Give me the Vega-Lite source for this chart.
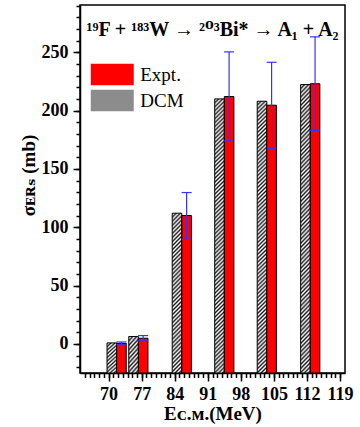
{
  "$schema": "https://vega.github.io/schema/vega-lite/v6.json",
  "width": 265,
  "height": 368,
  "autosize": {"type": "none"},
  "padding": {"left": 80, "top": 5, "right": 15, "bottom": 54},
  "background": "white",
  "config": {
    "view": {"stroke": "black", "strokeWidth": 1.5},
    "font": "Liberation Serif",
    "axis": {
      "labelFont": "Liberation Serif",
      "labelFontWeight": "bold",
      "labelFontSize": 18,
      "labelColor": "black",
      "labelOverlap": false,
      "tickColor": "black",
      "tickWidth": 1.5,
      "domainColor": "black",
      "domainWidth": 1.5,
      "grid": false,
      "titleFont": "Liberation Serif, DejaVu Serif",
      "titleFontWeight": "bold",
      "titleFontSize": 19,
      "titleColor": "black"
    }
  },
  "title": {
    "text": "¹⁹F + ¹⁸³W → ²⁰³Bi* → A₁ + A₂",
    "orient": "top",
    "anchor": "middle",
    "frame": "group",
    "offset": -27,
    "dy": 24,
    "baseline": "alphabetic",
    "font": "Liberation Serif, DejaVu Serif",
    "fontSize": 20,
    "fontWeight": "bold",
    "color": "black"
  },
  "data": {
    "values": [
      {"E": 71.7, "model": "DCM", "sigma": 0.8},
      {"E": 71.7, "model": "Expt.", "sigma": 0.4, "lo": -0.8, "hi": 1.6},
      {"E": 76.3, "model": "DCM", "sigma": 6.3},
      {"E": 76.3, "model": "Expt.", "sigma": 4.8, "lo": 2.5, "hi": 7.1},
      {"E": 85.5, "model": "DCM", "sigma": 112},
      {"E": 85.5, "model": "Expt.", "sigma": 110, "lo": 89.7, "hi": 129.7},
      {"E": 94.5, "model": "DCM", "sigma": 210},
      {"E": 94.5, "model": "Expt.", "sigma": 212, "lo": 174, "hi": 250.3},
      {"E": 103.5, "model": "DCM", "sigma": 208},
      {"E": 103.5, "model": "Expt.", "sigma": 204.6, "lo": 167.7, "hi": 241.4},
      {"E": 112.7, "model": "DCM", "sigma": 222.3},
      {"E": 112.7, "model": "Expt.", "sigma": 223, "lo": 183, "hi": 263.2}
    ]
  },
  "resolve": {"axis": {"x": "independent", "y": "independent"}},
  "layer": [
    {
      "transform": [{"filter": "datum.model === 'DCM' && datum.E > 90"}],
      "mark": {
        "type": "bar", "width": 9.6, "xOffset": -4.8, "stroke": "black", "strokeWidth": 1,
        "fill": {
          "gradient": "linear", "x1": 0, "y1": 0, "x2": 0.0356, "y2": 1.033,
          "stops": [
            {"offset": 0, "color": "#1a1a1a"}, {"offset": 0.007, "color": "#ffffff"},
            {"offset": 0.014, "color": "#1a1a1a"}, {"offset": 0.021, "color": "#ffffff"},
            {"offset": 0.028, "color": "#1a1a1a"}, {"offset": 0.035, "color": "#ffffff"},
            {"offset": 0.042, "color": "#1a1a1a"}, {"offset": 0.049, "color": "#ffffff"},
            {"offset": 0.056, "color": "#1a1a1a"}, {"offset": 0.063, "color": "#ffffff"},
            {"offset": 0.07, "color": "#1a1a1a"}, {"offset": 0.077, "color": "#ffffff"},
            {"offset": 0.084, "color": "#1a1a1a"}, {"offset": 0.091, "color": "#ffffff"},
            {"offset": 0.098, "color": "#1a1a1a"}, {"offset": 0.105, "color": "#ffffff"},
            {"offset": 0.112, "color": "#1a1a1a"}, {"offset": 0.119, "color": "#ffffff"},
            {"offset": 0.126, "color": "#1a1a1a"}, {"offset": 0.133, "color": "#ffffff"},
            {"offset": 0.14, "color": "#1a1a1a"}, {"offset": 0.147, "color": "#ffffff"},
            {"offset": 0.154, "color": "#1a1a1a"}, {"offset": 0.161, "color": "#ffffff"},
            {"offset": 0.168, "color": "#1a1a1a"}, {"offset": 0.175, "color": "#ffffff"},
            {"offset": 0.182, "color": "#1a1a1a"}, {"offset": 0.189, "color": "#ffffff"},
            {"offset": 0.196, "color": "#1a1a1a"}, {"offset": 0.203, "color": "#ffffff"},
            {"offset": 0.21, "color": "#1a1a1a"}, {"offset": 0.217, "color": "#ffffff"},
            {"offset": 0.224, "color": "#1a1a1a"}, {"offset": 0.231, "color": "#ffffff"},
            {"offset": 0.238, "color": "#1a1a1a"}, {"offset": 0.245, "color": "#ffffff"},
            {"offset": 0.252, "color": "#1a1a1a"}, {"offset": 0.259, "color": "#ffffff"},
            {"offset": 0.266, "color": "#1a1a1a"}, {"offset": 0.273, "color": "#ffffff"},
            {"offset": 0.28, "color": "#1a1a1a"}, {"offset": 0.287, "color": "#ffffff"},
            {"offset": 0.294, "color": "#1a1a1a"}, {"offset": 0.301, "color": "#ffffff"},
            {"offset": 0.308, "color": "#1a1a1a"}, {"offset": 0.315, "color": "#ffffff"},
            {"offset": 0.322, "color": "#1a1a1a"}, {"offset": 0.329, "color": "#ffffff"},
            {"offset": 0.336, "color": "#1a1a1a"}, {"offset": 0.343, "color": "#ffffff"},
            {"offset": 0.35, "color": "#1a1a1a"}, {"offset": 0.357, "color": "#ffffff"},
            {"offset": 0.364, "color": "#1a1a1a"}, {"offset": 0.371, "color": "#ffffff"},
            {"offset": 0.378, "color": "#1a1a1a"}, {"offset": 0.385, "color": "#ffffff"},
            {"offset": 0.392, "color": "#1a1a1a"}, {"offset": 0.399, "color": "#ffffff"},
            {"offset": 0.406, "color": "#1a1a1a"}, {"offset": 0.413, "color": "#ffffff"},
            {"offset": 0.42, "color": "#1a1a1a"}, {"offset": 0.427, "color": "#ffffff"},
            {"offset": 0.434, "color": "#1a1a1a"}, {"offset": 0.441, "color": "#ffffff"},
            {"offset": 0.448, "color": "#1a1a1a"}, {"offset": 0.455, "color": "#ffffff"},
            {"offset": 0.462, "color": "#1a1a1a"}, {"offset": 0.469, "color": "#ffffff"},
            {"offset": 0.476, "color": "#1a1a1a"}, {"offset": 0.483, "color": "#ffffff"},
            {"offset": 0.49, "color": "#1a1a1a"}, {"offset": 0.497, "color": "#ffffff"},
            {"offset": 0.504, "color": "#1a1a1a"}, {"offset": 0.511, "color": "#ffffff"},
            {"offset": 0.518, "color": "#1a1a1a"}, {"offset": 0.525, "color": "#ffffff"},
            {"offset": 0.532, "color": "#1a1a1a"}, {"offset": 0.539, "color": "#ffffff"},
            {"offset": 0.546, "color": "#1a1a1a"}, {"offset": 0.553, "color": "#ffffff"},
            {"offset": 0.56, "color": "#1a1a1a"}, {"offset": 0.567, "color": "#ffffff"},
            {"offset": 0.574, "color": "#1a1a1a"}, {"offset": 0.581, "color": "#ffffff"},
            {"offset": 0.588, "color": "#1a1a1a"}, {"offset": 0.595, "color": "#ffffff"},
            {"offset": 0.602, "color": "#1a1a1a"}, {"offset": 0.609, "color": "#ffffff"},
            {"offset": 0.616, "color": "#1a1a1a"}, {"offset": 0.623, "color": "#ffffff"},
            {"offset": 0.63, "color": "#1a1a1a"}, {"offset": 0.637, "color": "#ffffff"},
            {"offset": 0.644, "color": "#1a1a1a"}, {"offset": 0.651, "color": "#ffffff"},
            {"offset": 0.658, "color": "#1a1a1a"}, {"offset": 0.665, "color": "#ffffff"},
            {"offset": 0.672, "color": "#1a1a1a"}, {"offset": 0.679, "color": "#ffffff"},
            {"offset": 0.686, "color": "#1a1a1a"}, {"offset": 0.693, "color": "#ffffff"},
            {"offset": 0.7, "color": "#1a1a1a"}, {"offset": 0.707, "color": "#ffffff"},
            {"offset": 0.714, "color": "#1a1a1a"}, {"offset": 0.721, "color": "#ffffff"},
            {"offset": 0.728, "color": "#1a1a1a"}, {"offset": 0.735, "color": "#ffffff"},
            {"offset": 0.742, "color": "#1a1a1a"}, {"offset": 0.749, "color": "#ffffff"},
            {"offset": 0.756, "color": "#1a1a1a"}, {"offset": 0.763, "color": "#ffffff"},
            {"offset": 0.77, "color": "#1a1a1a"}, {"offset": 0.777, "color": "#ffffff"},
            {"offset": 0.784, "color": "#1a1a1a"}, {"offset": 0.791, "color": "#ffffff"},
            {"offset": 0.798, "color": "#1a1a1a"}, {"offset": 0.805, "color": "#ffffff"},
            {"offset": 0.812, "color": "#1a1a1a"}, {"offset": 0.819, "color": "#ffffff"},
            {"offset": 0.826, "color": "#1a1a1a"}, {"offset": 0.833, "color": "#ffffff"},
            {"offset": 0.84, "color": "#1a1a1a"}, {"offset": 0.847, "color": "#ffffff"},
            {"offset": 0.854, "color": "#1a1a1a"}, {"offset": 0.861, "color": "#ffffff"},
            {"offset": 0.868, "color": "#1a1a1a"}, {"offset": 0.875, "color": "#ffffff"},
            {"offset": 0.882, "color": "#1a1a1a"}, {"offset": 0.889, "color": "#ffffff"},
            {"offset": 0.896, "color": "#1a1a1a"}, {"offset": 0.903, "color": "#ffffff"},
            {"offset": 0.91, "color": "#1a1a1a"}, {"offset": 0.917, "color": "#ffffff"},
            {"offset": 0.924, "color": "#1a1a1a"}, {"offset": 0.931, "color": "#ffffff"},
            {"offset": 0.938, "color": "#1a1a1a"}, {"offset": 0.945, "color": "#ffffff"},
            {"offset": 0.952, "color": "#1a1a1a"}, {"offset": 0.959, "color": "#ffffff"},
            {"offset": 0.966, "color": "#1a1a1a"}, {"offset": 0.973, "color": "#ffffff"},
            {"offset": 0.98, "color": "#1a1a1a"}, {"offset": 0.987, "color": "#ffffff"},
            {"offset": 0.994, "color": "#1a1a1a"}, {"offset": 1, "color": "#ffffff"}
          ]
        }
      },
      "encoding": {
        "x": {
          "field": "E", "type": "quantitative",
          "scale": {"domain": [65, 119], "nice": false, "zero": false},
          "axis": {
            "orient": "bottom",
            "values": [70, 77, 84, 91, 98, 105, 112, 119],
            "tickSize": 8,
            "labelPadding": 4,
            "title": "Eᴄ.ᴍ.(MeV)",
            "titleY": 46,
            "titleBaseline": "alphabetic"
          }
        },
        "y": {
          "field": "sigma", "type": "quantitative",
          "scale": {"domain": [-25, 290.5], "nice": false, "zero": false},
          "axis": {
            "orient": "left",
            "values": [0, 50, 100, 150, 200, 250],
            "tickSize": 7,
            "labelPadding": 5,
            "title": "σᴇʀₛ (mb)",
            "titleAngle": -90,
            "titleX": -46,
            "titleY": 170,
            "titleAlign": "center",
            "titleBaseline": "alphabetic"
          }
        },
        "y2": {"datum": -25}
      }
    },
    {
      "transform": [{"filter": "datum.model === 'DCM' && datum.E > 80 && datum.E < 90"}],
      "mark": {
        "type": "bar", "width": 9.6, "xOffset": -4.8, "stroke": "black", "strokeWidth": 1,
        "fill": {
          "gradient": "linear", "x1": 0, "y1": 0, "x2": 0.0635, "y2": 1.0563,
          "stops": [
            {"offset": 0, "color": "#1a1a1a"}, {"offset": 0.012, "color": "#ffffff"},
            {"offset": 0.024, "color": "#1a1a1a"}, {"offset": 0.036, "color": "#ffffff"},
            {"offset": 0.048, "color": "#1a1a1a"}, {"offset": 0.06, "color": "#ffffff"},
            {"offset": 0.072, "color": "#1a1a1a"}, {"offset": 0.084, "color": "#ffffff"},
            {"offset": 0.096, "color": "#1a1a1a"}, {"offset": 0.108, "color": "#ffffff"},
            {"offset": 0.12, "color": "#1a1a1a"}, {"offset": 0.132, "color": "#ffffff"},
            {"offset": 0.144, "color": "#1a1a1a"}, {"offset": 0.156, "color": "#ffffff"},
            {"offset": 0.168, "color": "#1a1a1a"}, {"offset": 0.18, "color": "#ffffff"},
            {"offset": 0.192, "color": "#1a1a1a"}, {"offset": 0.204, "color": "#ffffff"},
            {"offset": 0.216, "color": "#1a1a1a"}, {"offset": 0.228, "color": "#ffffff"},
            {"offset": 0.24, "color": "#1a1a1a"}, {"offset": 0.252, "color": "#ffffff"},
            {"offset": 0.264, "color": "#1a1a1a"}, {"offset": 0.276, "color": "#ffffff"},
            {"offset": 0.288, "color": "#1a1a1a"}, {"offset": 0.3, "color": "#ffffff"},
            {"offset": 0.312, "color": "#1a1a1a"}, {"offset": 0.324, "color": "#ffffff"},
            {"offset": 0.336, "color": "#1a1a1a"}, {"offset": 0.348, "color": "#ffffff"},
            {"offset": 0.36, "color": "#1a1a1a"}, {"offset": 0.372, "color": "#ffffff"},
            {"offset": 0.384, "color": "#1a1a1a"}, {"offset": 0.396, "color": "#ffffff"},
            {"offset": 0.408, "color": "#1a1a1a"}, {"offset": 0.42, "color": "#ffffff"},
            {"offset": 0.432, "color": "#1a1a1a"}, {"offset": 0.444, "color": "#ffffff"},
            {"offset": 0.456, "color": "#1a1a1a"}, {"offset": 0.468, "color": "#ffffff"},
            {"offset": 0.48, "color": "#1a1a1a"}, {"offset": 0.492, "color": "#ffffff"},
            {"offset": 0.504, "color": "#1a1a1a"}, {"offset": 0.516, "color": "#ffffff"},
            {"offset": 0.528, "color": "#1a1a1a"}, {"offset": 0.54, "color": "#ffffff"},
            {"offset": 0.552, "color": "#1a1a1a"}, {"offset": 0.564, "color": "#ffffff"},
            {"offset": 0.576, "color": "#1a1a1a"}, {"offset": 0.588, "color": "#ffffff"},
            {"offset": 0.6, "color": "#1a1a1a"}, {"offset": 0.612, "color": "#ffffff"},
            {"offset": 0.624, "color": "#1a1a1a"}, {"offset": 0.636, "color": "#ffffff"},
            {"offset": 0.648, "color": "#1a1a1a"}, {"offset": 0.66, "color": "#ffffff"},
            {"offset": 0.672, "color": "#1a1a1a"}, {"offset": 0.684, "color": "#ffffff"},
            {"offset": 0.696, "color": "#1a1a1a"}, {"offset": 0.708, "color": "#ffffff"},
            {"offset": 0.72, "color": "#1a1a1a"}, {"offset": 0.732, "color": "#ffffff"},
            {"offset": 0.744, "color": "#1a1a1a"}, {"offset": 0.756, "color": "#ffffff"},
            {"offset": 0.768, "color": "#1a1a1a"}, {"offset": 0.78, "color": "#ffffff"},
            {"offset": 0.792, "color": "#1a1a1a"}, {"offset": 0.804, "color": "#ffffff"},
            {"offset": 0.816, "color": "#1a1a1a"}, {"offset": 0.828, "color": "#ffffff"},
            {"offset": 0.84, "color": "#1a1a1a"}, {"offset": 0.852, "color": "#ffffff"},
            {"offset": 0.864, "color": "#1a1a1a"}, {"offset": 0.876, "color": "#ffffff"},
            {"offset": 0.888, "color": "#1a1a1a"}, {"offset": 0.9, "color": "#ffffff"},
            {"offset": 0.912, "color": "#1a1a1a"}, {"offset": 0.924, "color": "#ffffff"},
            {"offset": 0.936, "color": "#1a1a1a"}, {"offset": 0.948, "color": "#ffffff"},
            {"offset": 0.96, "color": "#1a1a1a"}, {"offset": 0.972, "color": "#ffffff"},
            {"offset": 0.984, "color": "#1a1a1a"}, {"offset": 0.996, "color": "#ffffff"}
          ]
        }
      },
      "encoding": {
        "x": {"field": "E", "type": "quantitative", "axis": null},
        "y": {"field": "sigma", "type": "quantitative", "axis": null},
        "y2": {"datum": -25}
      }
    },
    {
      "transform": [{"filter": "datum.model === 'DCM' && datum.E < 80"}],
      "mark": {
        "type": "bar", "width": 9.6, "xOffset": -4.8, "stroke": "black", "strokeWidth": 1,
        "fill": {
          "gradient": "linear", "x1": 0, "y1": 0, "x2": 0.346, "y2": 1.19,
          "stops": [
            {"offset": 0, "color": "#1a1a1a"}, {"offset": 0.047, "color": "#ffffff"},
            {"offset": 0.094, "color": "#1a1a1a"}, {"offset": 0.141, "color": "#ffffff"},
            {"offset": 0.188, "color": "#1a1a1a"}, {"offset": 0.235, "color": "#ffffff"},
            {"offset": 0.282, "color": "#1a1a1a"}, {"offset": 0.329, "color": "#ffffff"},
            {"offset": 0.376, "color": "#1a1a1a"}, {"offset": 0.423, "color": "#ffffff"},
            {"offset": 0.47, "color": "#1a1a1a"}, {"offset": 0.517, "color": "#ffffff"},
            {"offset": 0.564, "color": "#1a1a1a"}, {"offset": 0.611, "color": "#ffffff"},
            {"offset": 0.658, "color": "#1a1a1a"}, {"offset": 0.705, "color": "#ffffff"},
            {"offset": 0.752, "color": "#1a1a1a"}, {"offset": 0.799, "color": "#ffffff"},
            {"offset": 0.846, "color": "#1a1a1a"}, {"offset": 0.893, "color": "#ffffff"},
            {"offset": 0.94, "color": "#1a1a1a"}, {"offset": 0.987, "color": "#ffffff"}
          ]
        }
      },
      "encoding": {
        "x": {"field": "E", "type": "quantitative", "axis": null},
        "y": {"field": "sigma", "type": "quantitative", "axis": null},
        "y2": {"datum": -25}
      }
    },
    {
      "transform": [{"filter": "datum.model === 'Expt.'"}],
      "mark": {"type": "bar", "width": 9.6, "xOffset": 4.8, "stroke": "black", "strokeWidth": 1},
      "encoding": {
        "x": {
          "field": "E", "type": "quantitative",
          "axis": {
            "orient": "bottom",
            "values": [65, 66, 67, 68, 69, 70, 71, 72, 73, 74, 75, 76, 77, 78, 79, 80, 81, 82, 83, 84, 85, 86, 87, 88, 89, 90, 91, 92, 93, 94, 95, 96, 97, 98, 99, 100, 101, 102, 103, 104, 105, 106, 107, 108, 109, 110, 111, 112, 113, 114, 115, 116, 117, 118, 119],
            "tickSize": 4.5,
            "labels": false,
            "domain": false,
            "title": null
          }
        },
        "y": {
          "field": "sigma", "type": "quantitative",
          "axis": {
            "orient": "left",
            "values": [-20, -10, 0, 10, 20, 30, 40, 50, 60, 70, 80, 90, 100, 110, 120, 130, 140, 150, 160, 170, 180, 190, 200, 210, 220, 230, 240, 250, 260, 270, 280, 290],
            "tickSize": 4,
            "labels": false,
            "domain": false,
            "title": null
          }
        },
        "y2": {"datum": -25},
        "color": {
          "field": "model", "type": "nominal",
          "scale": {"domain": ["Expt.", "DCM"], "range": ["#ff0000", "#8c8c8c"]},
          "legend": {
            "orient": "none",
            "legendX": 20.75,
            "legendY": 58,
            "title": null,
            "symbolType": "M-2,-1H2V1H-2Z",
            "symbolSize": 462,
            "symbolStrokeColor": "black",
            "symbolStrokeWidth": 1,
            "symbolOpacity": 1,
            "labelFont": "Liberation Serif",
            "labelFontSize": 19,
            "labelColor": "black",
            "labelOffset": 16.5,
            "rowPadding": -1,
            "encode": {
              "symbols": {
                "update": {
                  "fill": [
                    {
                      "test": "datum.value === 'DCM'",
                      "value": {
                        "gradient": "linear", "x1": 0, "y1": 0, "x2": 1.2, "y2": 0.6,
                        "stops": [
                          {"offset": 0, "color": "#1a1a1a"}, {"offset": 0.031, "color": "#ffffff"},
                          {"offset": 0.062, "color": "#1a1a1a"}, {"offset": 0.093, "color": "#ffffff"},
                          {"offset": 0.124, "color": "#1a1a1a"}, {"offset": 0.155, "color": "#ffffff"},
                          {"offset": 0.186, "color": "#1a1a1a"}, {"offset": 0.217, "color": "#ffffff"},
                          {"offset": 0.248, "color": "#1a1a1a"}, {"offset": 0.279, "color": "#ffffff"},
                          {"offset": 0.31, "color": "#1a1a1a"}, {"offset": 0.341, "color": "#ffffff"},
                          {"offset": 0.372, "color": "#1a1a1a"}, {"offset": 0.403, "color": "#ffffff"},
                          {"offset": 0.434, "color": "#1a1a1a"}, {"offset": 0.465, "color": "#ffffff"},
                          {"offset": 0.496, "color": "#1a1a1a"}, {"offset": 0.527, "color": "#ffffff"},
                          {"offset": 0.558, "color": "#1a1a1a"}, {"offset": 0.589, "color": "#ffffff"},
                          {"offset": 0.62, "color": "#1a1a1a"}, {"offset": 0.651, "color": "#ffffff"},
                          {"offset": 0.682, "color": "#1a1a1a"}, {"offset": 0.713, "color": "#ffffff"},
                          {"offset": 0.744, "color": "#1a1a1a"}, {"offset": 0.775, "color": "#ffffff"},
                          {"offset": 0.806, "color": "#1a1a1a"}, {"offset": 0.837, "color": "#ffffff"},
                          {"offset": 0.868, "color": "#1a1a1a"}, {"offset": 0.899, "color": "#ffffff"},
                          {"offset": 0.93, "color": "#1a1a1a"}, {"offset": 0.961, "color": "#ffffff"},
                          {"offset": 0.992, "color": "#1a1a1a"}
                        ]
                      }
                    },
                    {"value": "#ff0000"}
                  ]
                }
              }
            }
          }
        }
      }
    },
    {
      "transform": [{"filter": "datum.model === 'Expt.'"}],
      "mark": {"type": "rule", "xOffset": 4.8, "color": "#3333ff", "strokeWidth": 1.2},
      "encoding": {
        "x": {"field": "E", "type": "quantitative", "axis": null},
        "y": {"field": "lo", "type": "quantitative", "axis": null},
        "y2": {"field": "hi"}
      }
    },
    {
      "transform": [{"filter": "datum.model === 'Expt.'"}],
      "mark": {"type": "tick", "orient": "horizontal", "size": 10, "thickness": 1.2, "xOffset": 4.8, "color": "#3333ff", "opacity": 1},
      "encoding": {
        "x": {"field": "E", "type": "quantitative", "axis": null},
        "y": {"field": "hi", "type": "quantitative", "axis": null}
      }
    },
    {
      "transform": [{"filter": "datum.model === 'Expt.'"}],
      "mark": {"type": "tick", "orient": "horizontal", "size": 10, "thickness": 1.2, "xOffset": 4.8, "color": "#3333ff", "opacity": 1},
      "encoding": {
        "x": {"field": "E", "type": "quantitative", "axis": null},
        "y": {"field": "lo", "type": "quantitative", "axis": null}
      }
    }
  ]
}
